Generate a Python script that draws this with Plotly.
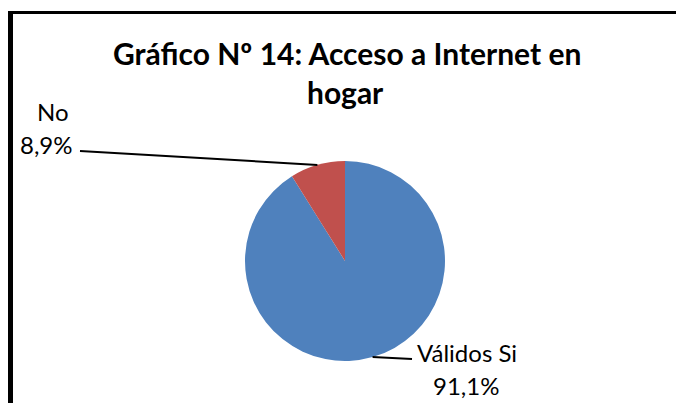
import math
import plotly.graph_objects as go

labels = ["Válidos Si", "No"]
values = [91.1, 8.9]
value_text = ["91,1%", "8,9%"]
colors = ["#4F81BD", "#C0504D"]
title_lines = ["Gráfico Nº 14: Acceso a Internet en", "hogar"]

W, H = 676, 403
FONT = "Lato"

# pie placement in pixels
cx, cy, r = 345, 261, 100
dom_x = [(cx - r) / W, (cx + r) / W]
dom_y = [(H - (cy + r)) / H, (H - (cy - r)) / H]

fig = go.Figure(go.Pie(
    labels=labels, values=values, sort=False, direction="clockwise", rotation=0,
    marker=dict(colors=colors, line=dict(width=0)),
    textinfo="none", hoverinfo="label+percent", showlegend=False,
    domain=dict(x=dom_x, y=dom_y),
))

def px(x, y):
    return x / W, 1 - y / H

# mid angles of slices (clockwise from top)
total = sum(values)
mids = []
acc = 0
for v in values:
    mids.append((acc + v / 2) / total * 2 * math.pi)
    acc += v
edge = [(cx + r * math.sin(a), cy - r * math.cos(a)) for a in mids]

shapes = [
    # frame: top and left borders
    dict(type="line", xref="paper", yref="paper", x0=8 / W, x1=1.01,
         y0=1 - 12.5 / H, y1=1 - 12.5 / H, line=dict(color="black", width=3)),
    dict(type="line", xref="paper", yref="paper", x0=10.5 / W, x1=10.5 / W,
         y0=1 - 11 / H, y1=-0.02, line=dict(color="black", width=5)),
]
# leader lines
sx, sy = edge[0]
shapes.append(dict(type="path", xref="paper", yref="paper",
                   path="M {},{} L {},{}".format(*px(sx, sy), *px(412, 359)),
                   line=dict(color="black", width=2)))
sx, sy = edge[1]
shapes.append(dict(type="path", xref="paper", yref="paper",
                   path="M {},{} L {},{}".format(*px(sx, sy), *px(80, 151)),
                   line=dict(color="black", width=2)))

annotations = []
for t, (x, y) in zip(title_lines, [(347, 53), (345, 92)]):
    xx, yy = px(x, y)
    annotations.append(dict(text="<b>%s</b>" % t, x=xx, y=yy, xref="paper", yref="paper",
                            showarrow=False, xanchor="center", yanchor="middle",
                            font=dict(family=FONT, size=30, color="black")))
label_pos = [[(467, 352), (466, 385)], [(53, 111), (47, 144)]]
for lab, val, pos in zip(labels, value_text, label_pos):
    for t, (x, y) in zip([lab, val], pos):
        xx, yy = px(x, y)
        annotations.append(dict(text=t, x=xx, y=yy, xref="paper", yref="paper",
                                showarrow=False, xanchor="center", yanchor="middle",
                                font=dict(family=FONT, size=24, color="black")))

fig.update_layout(width=W, height=H, margin=dict(l=0, r=0, t=0, b=0),
                  paper_bgcolor="white", plot_bgcolor="white",
                  shapes=shapes, annotations=annotations)
fig.write_html("out.html", config={"displayModeBar": False},
               post_script="document.body.style.margin='0';")
